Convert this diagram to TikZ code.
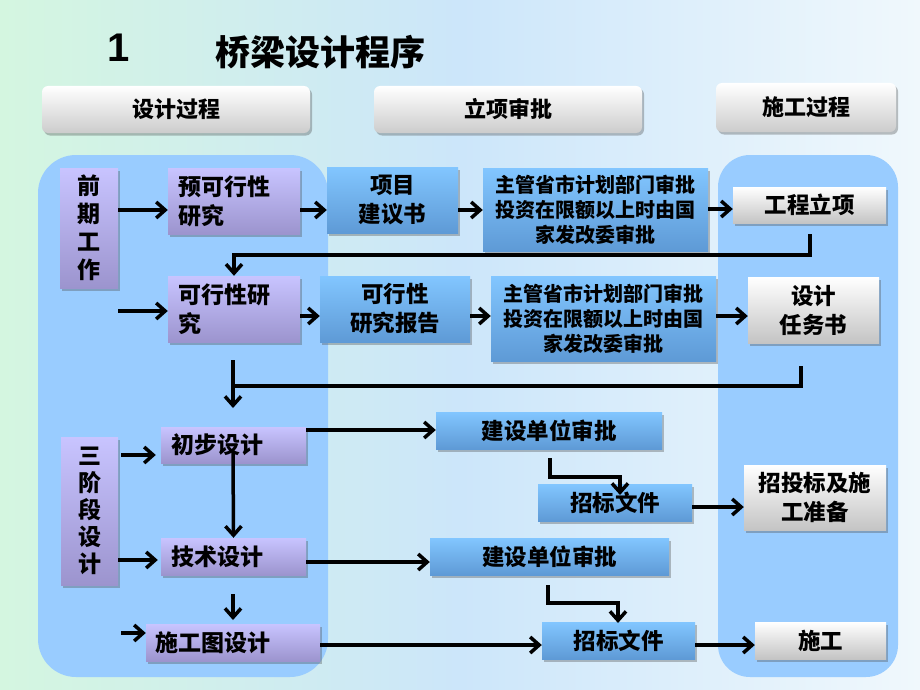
\documentclass[tikz,border=0pt]{standalone}
\usepackage{fontspec}
\setmainfont{Noto Sans CJK SC}
\newfontfamily\latinb{Liberation Sans}
\usetikzlibrary{arrows.meta,shadows,calc}
\definecolor{panelblue}{RGB}{153,204,255}
\definecolor{purtop}{RGB}{200,196,255}
\definecolor{purbot}{RGB}{156,148,206}
\definecolor{blutop}{RGB}{130,198,255}
\definecolor{blubot}{RGB}{94,154,214}
\definecolor{grytop}{RGB}{255,255,255}
\definecolor{grybot}{RGB}{196,196,196}
\definecolor{bgreen}{RGB}{212,246,224}
\definecolor{bblue}{RGB}{204,230,250}
\definecolor{bwhite}{RGB}{240,248,252}
\tikzset{
  shad/.style={drop shadow={shadow xshift=2pt,shadow yshift=-2.5pt,opacity=0.35,fill=black!70}},
  pbox/.style={shad,top color=purtop,bottom color=purbot,inner sep=0pt,
     font=\bfseries\fontsize{23}{29}\selectfont},
  bbox/.style={shad,top color=blutop,bottom color=blubot,inner sep=0pt,align=center,
     font=\bfseries\fontsize{22.5}{29}\selectfont},
  gbox/.style={shad,top color=grytop,bottom color=grybot,inner sep=0pt,align=center,
     font=\bfseries\fontsize{22.5}{29}\selectfont},
  hbox/.style={shad,top color=white,bottom color=black!20,rounded corners=6pt,inner sep=0pt,
     font=\bfseries\fontsize{22}{24}\selectfont},
  zgfont/.style={font=\bfseries\fontsize{20}{25}\selectfont},
  arr/.style={line width=3.5pt,-{Straight Barb[length=9pt,width=16pt]}},
  ln/.style={line width=3.5pt}
}
\begin{document}
\begin{tikzpicture}[x=1pt,y=-1pt]
\useasboundingbox (0,0) rectangle (920,690);
% background
\shade[left color=bgreen,right color=bwhite,middle color=bblue] (0,0) rectangle (920,690);
% title
\node[font=\latinb\bfseries\fontsize{40}{40}\selectfont,anchor=west] (num) at (104,48) {1};
\node[font=\bfseries\fontsize{35}{38}\selectfont,anchor=west] (title) at (212,52) {桥梁设计程序};
% headers
\node[hbox,minimum width=268pt,minimum height=47pt] (h1) at (176,109.5) {设计过程};
\node[hbox,minimum width=268pt,minimum height=47pt] (h2) at (508,109.5) {立项审批};
\node[hbox,minimum width=180pt,minimum height=49pt] (h3) at (806,107.5) {施工过程};
% panels
\fill[panelblue,rounded corners=38pt] (38,155) rectangle (328,677);
\fill[panelblue,rounded corners=32pt] (718,155) rectangle (898,677);
% purple boxes
\node[pbox,minimum width=58pt,minimum height=120pt,align=center,font=\bfseries\fontsize{23}{28}\selectfont] (qq) at (89,228) {前\\期\\工\\作};
\node[pbox,text width=112pt,minimum height=66pt,inner xsep=10pt,align=left] (yk) at (234,201) {预可行性\\研究};
\node[pbox,text width=112pt,minimum height=66pt,inner xsep=10pt,align=left] (kx) at (234,309) {可行性研\\究};
\node[pbox,minimum width=57pt,minimum height=148pt,align=center,font=\bfseries\fontsize{23}{27}\selectfont] (sj) at (89.5,511) {三\\阶\\段\\设\\计};
\node[pbox,text width=125pt,minimum height=36pt,inner xsep=10pt,align=left] (cb) at (233.5,445) {初步设计};
\node[pbox,text width=125pt,minimum height=37pt,inner xsep=10pt,align=left] (js) at (233.5,556.5) {技术设计};
\node[pbox,text width=156pt,minimum height=37pt,inner xsep=9pt,align=left] (sg) at (233,642.5) {施工图设计};
% blue boxes
\node[bbox,minimum width=131pt,minimum height=66pt] (xm) at (392.5,200) {项目\\建议书};
\node[bbox,zgfont,minimum width=225pt,minimum height=83pt] (zg1) at (595.5,209.5) {主管省市计划部门审批\\投资在限额以上时由国\\家发改委审批};
\node[bbox,minimum width=150pt,minimum height=66pt] (bg) at (395,309) {可行性\\研究报告};
\node[bbox,zgfont,minimum width=225pt,minimum height=85pt] (zg2) at (603.5,318.5) {主管省市计划部门审批\\投资在限额以上时由国\\家发改委审批};
\node[bbox,minimum width=226pt,minimum height=37pt] (jd1) at (549,430.5) {建设单位审批};
\node[bbox,minimum width=154pt,minimum height=37pt] (zb1) at (615,502.5) {招标文件};
\node[bbox,minimum width=239pt,minimum height=37pt] (jd2) at (549.5,556.5) {建设单位审批};
\node[bbox,minimum width=153pt,minimum height=37pt] (zb2) at (618.5,640.5) {招标文件};
% gray boxes
\node[gbox,minimum width=153pt,minimum height=36pt] (gclx) at (809.5,205) {工程立项};
\node[gbox,minimum width=131pt,minimum height=66pt] (rws) at (813.5,310) {设计\\任务书};
\node[gbox,minimum width=142pt,minimum height=65pt] (ztb) at (815,497.5) {招投标及施\\工准备};
\node[gbox,minimum width=131pt,minimum height=37pt] (sgg) at (820.5,640.5) {施工};
% coordinates for free ends
\coordinate (a5) at (810,234);
\coordinate (a6) at (118,311);
\coordinate (a10) at (801,366);
\coordinate (b10) at (233,360);
\coordinate (t10) at (233,408);
\coordinate (a14) at (233,452);
\coordinate (a16) at (233,594);
\coordinate (t16) at (233,620);
\coordinate (a17) at (121,633);
\coordinate (a19) at (550,458);
\coordinate (t19) at (620,495);
\coordinate (a21) at (548,585);
\coordinate (t21) at (618,623);
% connectors
\draw[arr] (qq.east |- 0,210) -- (yk.west |- 0,210);
\draw[arr] (yk.east |- 0,210) -- (xm.west |- 0,210);
\draw[arr] (xm.east |- 0,210) -- (zg1.west |- 0,210);
\draw[arr] (zg1.east |- 0,209) -- (gclx.west |- 0,209);
\draw[arr] (a5) |- (kx.north |- 0,255) -- (kx.north);
\draw[arr] (a6) -- (kx.west |- a6);
\draw[arr] (kx.east |- 0,316) -- (bg.west |- 0,316);
\draw[arr] (bg.east |- 0,316) -- (zg2.west |- 0,316);
\draw[arr] (zg2.east |- 0,316) -- (rws.west |- 0,316);
\draw[ln] (a10) |- (b10 |- 0,386);
\draw[arr] (b10) -- (t10);
\draw[arr] ([xshift=3pt]sj.east |- 0,455) -- ([xshift=-5pt]cb.west |- 0,455);
\draw[arr] (sj.east |- 0,560) -- ([xshift=-3pt]js.west |- 0,560);
\draw[arr] (cb.east |- 0,430) -- (jd1.west |- 0,430);
\draw[arr] (a14) -- (js.north);
\draw[arr] (js.east |- 0,562) -- (jd2.west |- 0,562);
\draw[arr] (a16) -- (t16);
\draw[arr] (a17) -- (sg.west |- a17);
\draw[arr] (sg.east |- 0,645) -- (zb2.west |- 0,645);
\draw[arr] (a19) |- (t19 |- 0,477) -- (t19);
\draw[arr] (zb1.east |- 0,507) -- (ztb.west |- 0,507);
\draw[arr] (a21) |- (t21 |- 0,603) -- (t21);
\draw[arr] (zb2.east |- 0,645) -- (sgg.west |- 0,645);
\end{tikzpicture}
\end{document}
